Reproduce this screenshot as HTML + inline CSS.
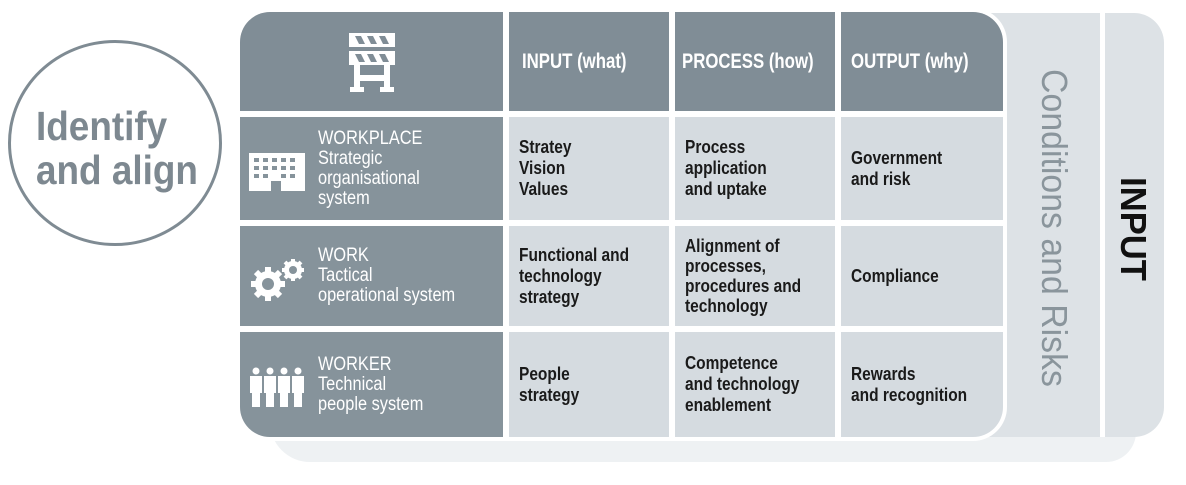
<!DOCTYPE html>
<html><head><meta charset="utf-8"><style>
body{margin:0;width:1186px;height:485px;background:#fff;position:relative;overflow:hidden;font-family:"Liberation Sans",sans-serif}
.a{position:absolute}
.c{position:absolute;display:flex;align-items:center}
.t{font-weight:bold;font-size:18px;line-height:21px;color:#1a1a1a;transform:scaleX(.86);transform-origin:left center;white-space:nowrap}
.h{font-size:21px;font-weight:bold;color:#fff;transform:scaleX(.8);transform-origin:left center;white-space:nowrap}
.l{font-size:19px;line-height:20px;color:#fff;transform:scaleX(.86);transform-origin:left center;white-space:nowrap}
.dk{background:#86939b}
.lt{background:#d5dbe0}
</style></head><body>
<div class="a" style="left:270px;top:400px;width:866px;height:62px;background:#eef1f3;border-radius:0 0 30px 40px"></div>
<div class="a" style="left:960px;top:13px;width:204px;height:424px;background:#dde2e6;border-radius:0 30px 30px 0"></div>
<div class="a" style="left:1100px;top:13px;width:5px;height:424px;background:#fff"></div>
<div class="a" style="left:8px;top:40px;width:208px;height:200px;border:3px solid #7f8b93;border-radius:50%"></div>
<div class="a" style="left:36px;top:104px;font-weight:bold;font-size:41px;line-height:44px;color:#7d8890;transform:scaleX(.9);transform-origin:left top;white-space:nowrap">Identify<br>and align</div>

<div class="a" style="left:236px;top:8px;width:771px;height:433px;background:#fff;border-radius:34px 34px 34px 34px"></div>
<!-- header -->
<div class="c dk" style="left:240px;top:12px;width:263px;height:99px;border-radius:30px 0 0 0;background:#808d96;justify-content:center">
<svg width="50" height="62" viewBox="0 0 50 62"><g fill="#fff"><rect x="2" y="2" width="46" height="14"/><rect x="2" y="20" width="46" height="14"/><rect x="7" y="34" width="6" height="24"/><rect x="37" y="34" width="6" height="24"/><rect x="7" y="44" width="36" height="6"/><rect x="3" y="56" width="14" height="5"/><rect x="33" y="56" width="14" height="5"/></g><g fill="#808d96"><polygon points="8,5 14,5 18,13 12,13"/><polygon points="20,5 26,5 30,13 24,13"/><polygon points="32,5 38,5 42,13 36,13"/><polygon points="8,23 14,23 18,31 12,31"/><polygon points="20,23 26,23 30,31 24,31"/><polygon points="32,23 38,23 42,31 36,31"/></g></svg></div>
<div class="c" style="left:509px;top:12px;width:160px;height:99px;background:#808d96"><span class="h" style="margin-left:13px">INPUT (what)</span></div>
<div class="c" style="left:675px;top:12px;width:160px;height:99px;background:#808d96"><span class="h" style="margin-left:7px">PROCESS (how)</span></div>
<div class="c" style="left:841px;top:12px;width:162px;height:99px;background:#808d96;border-radius:0 30px 0 0"><span class="h" style="margin-left:10px">OUTPUT (why)</span></div>
<!-- row labels -->
<div class="c dk" style="left:240px;top:117px;width:263px;height:103px">
<svg class="a" style="left:9px;top:36px" width="56" height="38" viewBox="0 0 56 38"><rect x="0" y="0" width="56" height="38" fill="#fff"/><g fill="#86939b"><rect x="5" y="5" width="5" height="4"/><rect x="14" y="5" width="5" height="4"/><rect x="23" y="5" width="5" height="4"/><rect x="32" y="5" width="5" height="4"/><rect x="41" y="5" width="5" height="4"/><rect x="5" y="13" width="5" height="4"/><rect x="14" y="13" width="5" height="4"/><rect x="23" y="13" width="5" height="4"/><rect x="32" y="13" width="5" height="4"/><rect x="41" y="13" width="5" height="4"/><rect x="5" y="21" width="5" height="4"/><rect x="14" y="21" width="5" height="4"/><rect x="32" y="21" width="5" height="4"/><rect x="41" y="21" width="5" height="4"/><rect x="22" y="28" width="10" height="10"/></g></svg>
<span class="l" style="margin-left:78px">WORKPLACE<br>Strategic<br>organisational<br>system</span></div>
<div class="c dk" style="left:240px;top:226px;width:263px;height:100px">
<svg class="a" style="left:8px;top:32px" width="62" height="44" viewBox="0 0 62 44"><g fill="#fff"><circle cx="20" cy="26" r="13"/><circle cx="45" cy="12" r="9"/></g><g stroke="#fff" stroke-width="6"><line x1="20" y1="9" x2="20" y2="43"/><line x1="3" y1="26" x2="37" y2="26"/><line x1="8" y1="14" x2="32" y2="38"/><line x1="32" y1="14" x2="8" y2="38"/></g><g stroke="#fff" stroke-width="4"><line x1="45" y1="1" x2="45" y2="23"/><line x1="34" y1="12" x2="56" y2="12"/><line x1="37" y1="4" x2="53" y2="20"/><line x1="53" y1="4" x2="37" y2="20"/></g><circle cx="20" cy="26" r="6" fill="#86939b"/><circle cx="45" cy="12" r="4" fill="#86939b"/></svg>
<span class="l" style="margin-left:78px">WORK<br>Tactical<br>operational system</span></div>
<div class="c dk" style="left:240px;top:332px;width:263px;height:105px;border-radius:0 0 0 30px">
<svg class="a" style="left:9px;top:35px" width="56" height="40" viewBox="0 0 56 40"><g fill="#fff"><circle cx="7" cy="4" r="3.5"/><circle cx="21" cy="4" r="3.5"/><circle cx="35" cy="4" r="3.5"/><circle cx="49" cy="4" r="3.5"/><rect x="1" y="9" width="12" height="17"/><rect x="15" y="9" width="12" height="17"/><rect x="29" y="9" width="12" height="17"/><rect x="43" y="9" width="12" height="17"/><rect x="3" y="24" width="8" height="16"/><rect x="17" y="24" width="8" height="16"/><rect x="31" y="24" width="8" height="16"/><rect x="45" y="24" width="8" height="16"/></g></svg>
<span class="l" style="margin-left:78px">WORKER<br>Technical<br>people system</span></div>
<!-- cells -->
<div class="c lt" style="left:509px;top:117px;width:160px;height:103px"><span class="t" style="margin-left:10px">Stratey<br>Vision<br>Values</span></div>
<div class="c lt" style="left:675px;top:117px;width:160px;height:103px"><span class="t" style="margin-left:10px">Process<br>application<br>and uptake</span></div>
<div class="c lt" style="left:841px;top:117px;width:162px;height:103px"><span class="t" style="margin-left:10px">Government<br>and risk</span></div>
<div class="c lt" style="left:509px;top:226px;width:160px;height:100px"><span class="t" style="margin-left:10px">Functional and<br>technology<br>strategy</span></div>
<div class="c lt" style="left:675px;top:226px;width:160px;height:100px"><span class="t" style="margin-left:10px;line-height:20px">Alignment of<br>processes,<br>procedures and<br>technology</span></div>
<div class="c lt" style="left:841px;top:226px;width:162px;height:100px"><span class="t" style="margin-left:10px">Compliance</span></div>
<div class="c lt" style="left:509px;top:332px;width:160px;height:105px"><span class="t" style="margin-left:10px">People<br>strategy</span></div>
<div class="c lt" style="left:675px;top:332px;width:160px;height:105px"><span class="t" style="margin-left:10px">Competence<br>and technology<br>enablement</span></div>
<div class="c lt" style="left:841px;top:332px;width:162px;height:105px;border-radius:0 0 30px 0"><span class="t" style="margin-left:10px">Rewards<br>and recognition</span></div>
<!-- rotated -->
<div class="a" style="left:1054px;top:228px;width:0;height:0"><div style="position:absolute;transform:translate(-50%,-50%) rotate(90deg);white-space:nowrap;font-size:36px;color:#8a959c;left:0;top:0"><span style="display:inline-block;transform:scaleX(.94)">Conditions and Risks</span></div></div>
<div class="a" style="left:1133px;top:229px;width:0;height:0"><div style="position:absolute;transform:translate(-50%,-50%) rotate(90deg);white-space:nowrap;font-size:36px;font-weight:bold;color:#111;left:0;top:0"><span style="display:inline-block;transform:scaleX(.96)">INPUT</span></div></div>
</body></html>
